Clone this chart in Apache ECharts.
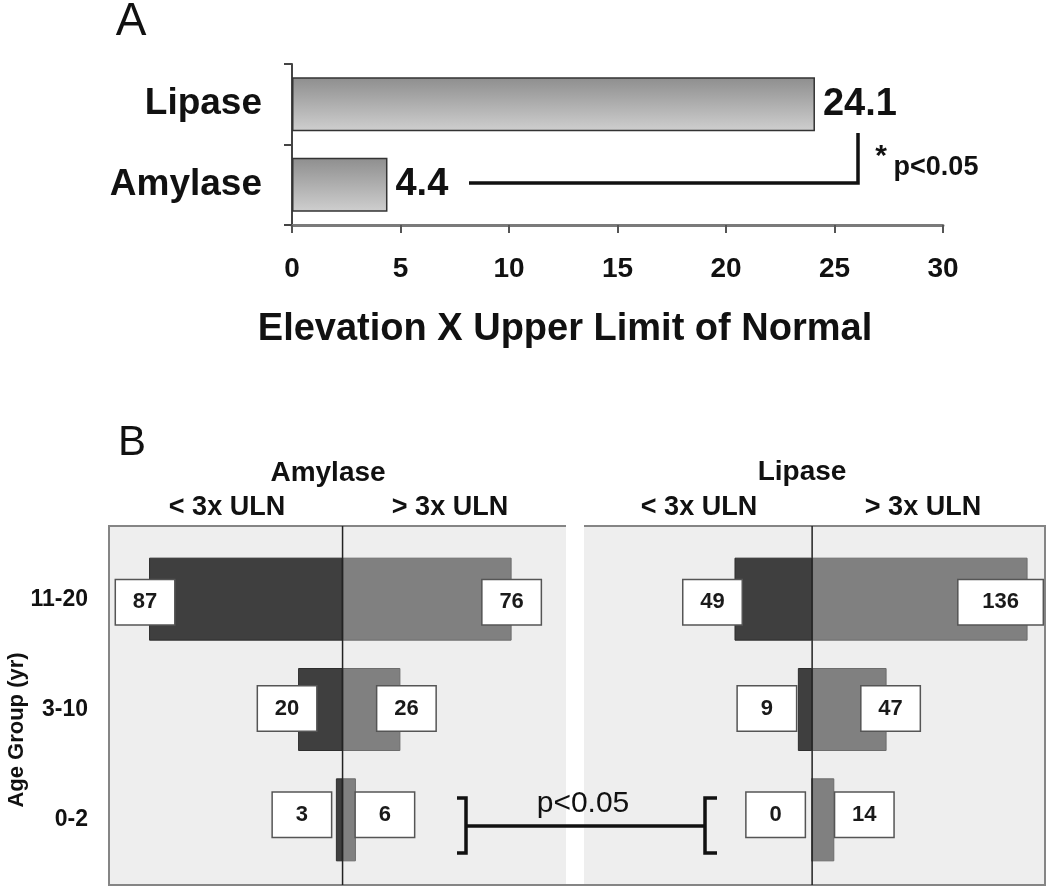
<!DOCTYPE html>
<html>
<head>
<meta charset="utf-8">
<script src="https://cdn.jsdelivr.net/npm/echarts@6/dist/echarts.min.js"></script>
<style>
html,body{margin:0;padding:0;background:#fff;}
#chart{width:1050px;height:891px;}
</style>
</head>
<body>
<div id="chart"></div>
<script>
// ---- Data ----
const enzymeCategories = ['Lipase', 'Amylase'];
const elevationValues = [24.1, 4.4];           // x ULN
const elevationAxisMin = 0, elevationAxisMax = 30, elevationAxisStep = 5;

const ageGroups = ['0-2', '3-10', '11-20'];
const amylaseBelow3x = [3, 20, 87];
const amylaseAbove3x = [6, 26, 76];
const lipaseBelow3x = [0, 9, 49];
const lipaseAbove3x = [14, 47, 136];

// ---- Styling ----
const FONT = "'Liberation Sans', Arial, Helvetica, sans-serif";
const INK = '#111';
const DARK = '#3f3f3f';
const MID = '#808080';

// label box nudges (layout only), per age group index
const nudge = {
  amyLow:  [[-34, -5], [-11, -1], [-4, 3]],
  amyHigh: [[29, -5], [6, -1], [0, 3]],
  lipLow:  [[-36, -5], [-31, -1], [-22, 3]],
  lipHigh: [[30, -5], [4, -1], [-27, 3]]
};
const boxWidth = { lipHigh: [58, 58, 84] };

function boxLabel(pos) {
  return {
    show: true,
    position: pos,
    distance: 0,
    align: 'center',
    verticalAlign: 'middle',
    width: 58,
    height: 44,
    lineHeight: 44,
    backgroundColor: '#fff',
    borderColor: '#555',
    borderWidth: 1.5,
    color: '#1a1a1a',
    fontFamily: FONT,
    fontSize: 22,
    fontWeight: 'bold',
    formatter: p => String(Math.abs(p.value))
  };
}

function buildData(values, key, negative) {
  return values.map((v, i) => {
    const item = { value: negative ? -v : v, label: { offset: nudge[key][i] } };
    if (boxWidth[key]) item.label.width = boxWidth[key][i];
    return item;
  });
}

const chart = echarts.init(document.getElementById('chart'), null, { renderer: 'canvas' });

const option = {
  backgroundColor: '#fff',
  animation: false,
  textStyle: { fontFamily: FONT },
  grid: [
    { left: 292, right: 107, top: 64, height: 161, containLabel: false },
    { left: 109, width: 456, top: 544, height: 331, containLabel: false },
    { left: 584, width: 461, top: 544, height: 331, containLabel: false }
  ],
  xAxis: [
    {
      gridIndex: 0, type: 'value',
      min: elevationAxisMin, max: elevationAxisMax, interval: elevationAxisStep,
      axisLine: { show: true, lineStyle: { color: '#7a7a7a', width: 3 } },
      axisTick: { show: true, length: 8, lineStyle: { color: '#555', width: 2 } },
      axisLabel: { color: INK, fontFamily: FONT, fontSize: 28, fontWeight: 'bold', margin: 30 },
      splitLine: { show: false }
    },
    { gridIndex: 1, type: 'value', min: -105, max: 100, show: false },
    { gridIndex: 2, type: 'value', min: -144, max: 147, show: false }
  ],
  yAxis: [
    {
      gridIndex: 0, type: 'category', data: enzymeCategories, inverse: true,
      axisLine: { show: true, lineStyle: { color: '#444', width: 2 } },
      axisTick: { show: true, length: 8, lineStyle: { color: '#444', width: 2 } },
      axisLabel: { color: INK, fontFamily: FONT, fontSize: 37, fontWeight: 'bold', margin: 30 }
    },
    {
      gridIndex: 1, type: 'category', data: ageGroups,
      axisLine: { show: false },
      axisTick: { show: true, alignWithLabel: true, length: 5, lineStyle: { color: '#666', width: 1.5 } },
      axisLabel: { color: INK, fontFamily: FONT, fontSize: 23, fontWeight: 'bold', margin: 21 }
    },
    {
      gridIndex: 2, type: 'category', data: ageGroups,
      axisLine: { show: false }, axisTick: { show: false }, axisLabel: { show: false }
    }
  ],
  series: [
    {
      type: 'bar', xAxisIndex: 0, yAxisIndex: 0, data: elevationValues, barWidth: 54,
      itemStyle: {
        color: new echarts.graphic.LinearGradient(0, 0, 0, 1, [
          { offset: 0, color: '#8e8e8e' }, { offset: 1, color: '#cfcfcf' }
        ]),
        borderColor: '#333', borderWidth: 1.5
      },
      label: { show: true, position: 'right', distance: 8, color: INK, fontFamily: FONT, fontSize: 38, fontWeight: 'bold' }
    },
    {
      type: 'bar', name: 'Amylase < 3x ULN', xAxisIndex: 1, yAxisIndex: 1, stack: 'amy', barWidth: 83,
      data: buildData(amylaseBelow3x, 'amyLow', true),
      itemStyle: { color: DARK, borderColor: '#2e2e2e', borderWidth: 1 },
      label: boxLabel('left')
    },
    {
      type: 'bar', name: 'Amylase > 3x ULN', xAxisIndex: 1, yAxisIndex: 1, stack: 'amy', barWidth: 83,
      data: buildData(amylaseAbove3x, 'amyHigh', false),
      itemStyle: { color: MID, borderColor: '#6c6c6c', borderWidth: 1 },
      label: boxLabel('right')
    },
    {
      type: 'bar', name: 'Lipase < 3x ULN', xAxisIndex: 2, yAxisIndex: 2, stack: 'lip', barWidth: 83,
      data: buildData(lipaseBelow3x, 'lipLow', true),
      itemStyle: { color: DARK, borderColor: '#2e2e2e', borderWidth: 1 },
      label: boxLabel('left')
    },
    {
      type: 'bar', name: 'Lipase > 3x ULN', xAxisIndex: 2, yAxisIndex: 2, stack: 'lip', barWidth: 83,
      data: buildData(lipaseAbove3x, 'lipHigh', false),
      itemStyle: { color: MID, borderColor: '#6c6c6c', borderWidth: 1 },
      label: boxLabel('right')
    }
  ]
};

chart.setOption(option);

const zeroAmy = chart.convertToPixel({ xAxisIndex: 1 }, 0);
const zeroLip = chart.convertToPixel({ xAxisIndex: 2 }, 0);

function txt(text, x, y, size, weight, extra) {
  return Object.assign({
    type: 'text', x: x, y: y, z: 100,
    style: {
      text: text, fill: INK,
      font: (weight || 'normal') + ' ' + size + 'px ' + FONT,
      textAlign: 'center', textVerticalAlign: 'middle',
      align: 'center', verticalAlign: 'middle'
    }
  }, extra || {});
}
function poly(points, w) {
  return { type: 'polyline', z: 100, shape: { points: points }, style: { stroke: INK, lineWidth: w || 3.5, fill: null } };
}

const graphics = [
  // panel frames
  { type: 'rect', z: -10, shape: { x: 109, y: 526, width: 936, height: 359 }, style: { fill: '#eeeeee', stroke: '#858585', lineWidth: 2 } },
  { type: 'rect', z: -9, shape: { x: 566, y: 523, width: 18, height: 361 }, style: { fill: '#ffffff' } },
  // zero lines
  { type: 'line', z: 50, shape: { x1: zeroAmy, y1: 526, x2: zeroAmy, y2: 885 }, style: { stroke: '#222', lineWidth: 1.5 } },
  { type: 'line', z: 50, shape: { x1: zeroLip, y1: 526, x2: zeroLip, y2: 885 }, style: { stroke: '#222', lineWidth: 1.5 } },
  // panel letters
  txt('A', 131, 22, 46, 'normal'),
  txt('B', 132, 443, 42, 'normal'),
  // panel A axis title
  txt('Elevation X Upper Limit of Normal', 565, 330, 38, 'bold'),
  // panel A significance
  poly([[469, 183], [858, 183], [858, 133]], 3.5),
  txt('*', 881, 157, 30, 'bold'),
  txt('p<0.05', 936, 168, 27, 'bold'),
  // panel B headers
  txt('Amylase', 328, 473, 28, 'bold'),
  txt('< 3x ULN', 227, 508, 27, 'bold'),
  txt('> 3x ULN', 450, 508, 27, 'bold'),
  txt('Lipase', 802, 472, 28, 'bold'),
  txt('< 3x ULN', 699, 508, 27, 'bold'),
  txt('> 3x ULN', 923, 508, 27, 'bold'),
  // age group axis title
  txt('Age Group (yr)', 17, 730, 22, 'bold', { rotation: Math.PI / 2 }),
  // panel B significance bracket
  poly([[457, 798], [466, 798], [466, 853], [457, 853]], 3.5),
  poly([[466, 826], [705, 826]], 3.5),
  poly([[717, 798], [705, 798], [705, 853], [717, 853]], 3.5),
  txt('p<0.05', 583, 804, 30, 'normal')
];

chart.setOption({ graphic: graphics });
</script>
</body>
</html>
